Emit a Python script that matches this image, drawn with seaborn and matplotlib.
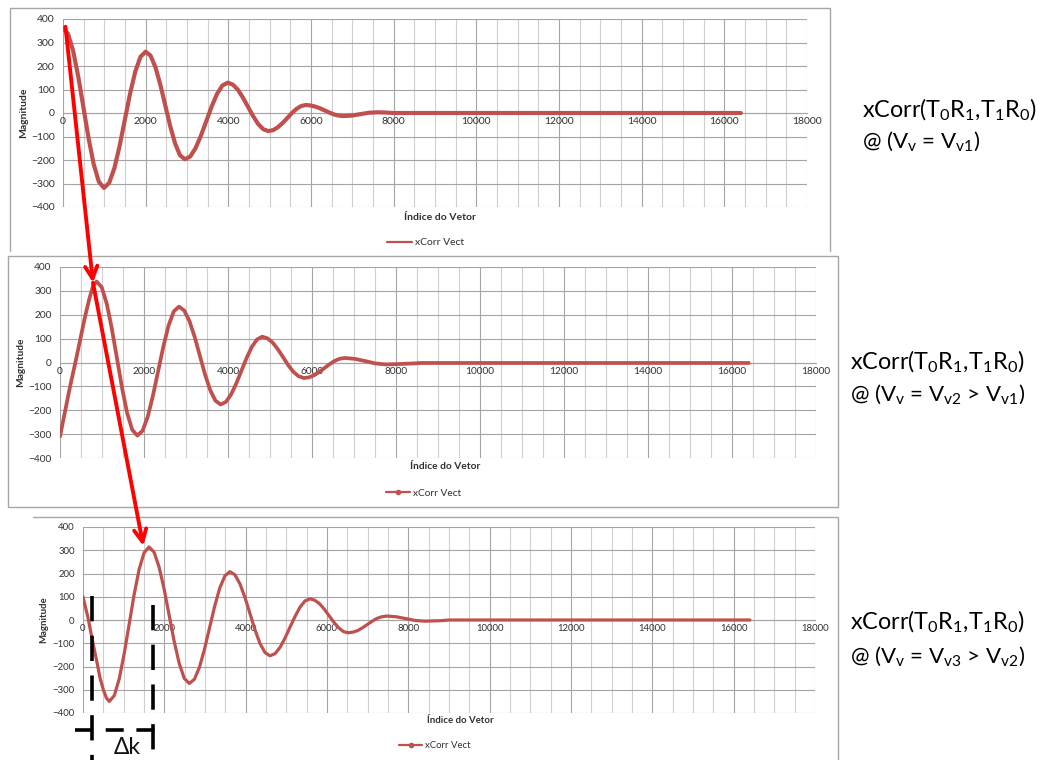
import matplotlib
matplotlib.use("Agg")
import matplotlib.pyplot as plt
import pandas as pd
import seaborn as sns
from matplotlib.lines import Line2D
from matplotlib.patches import ConnectionPatch
from matplotlib.ticker import MultipleLocator

# ---------------- data: cross-correlation vectors for three vehicle speeds ----------------
idx_v1 = [0, 124, 248, 372, 496, 620, 744, 868,
          992, 1118, 1244, 1370, 1496, 1622, 1748, 1874,
          2000, 2119, 2238, 2356, 2475, 2594, 2713, 2831,
          2950, 3079, 3209, 3338, 3468, 3597, 3726, 3856,
          3985, 4108, 4231, 4354, 4477, 4599, 4722, 4845,
          4968, 5082, 5196, 5310, 5424, 5538, 5652, 5766,
          5880, 5993, 6105, 6218, 6330, 6443, 6555, 6668,
          6780, 6985, 7190, 7395, 7600, 7800, 8000, 16400]
mag_v1 = [362, 336, 262, 152, 22, -109, -219, -293,
          -319, -297, -234, -140, -29, 82, 176, 239,
          261, 244, 194, 120, 32, -56, -130, -180,
          -197, -185, -149, -96, -34, 28, 81, 117,
          129, 121, 99, 65, 26, -13, -47, -69,
          -77, -73, -61, -43, -22, 0, 18, 30,
          34, 32, 27, 20, 11, 2, -6, -11,
          -13, -11, -5, 1, 3, 2, 0, 0]

idx_v2 = [0, 120, 240, 360, 480, 600, 700, 790,
          873, 994, 1115, 1236, 1357, 1478, 1599, 1720,
          1841, 1965, 2089, 2213, 2337, 2461, 2585, 2709,
          2833, 2957, 3081, 3205, 3329, 3453, 3577, 3701,
          3825, 3949, 4073, 4197, 4321, 4445, 4569, 4693,
          4817, 4941, 5065, 5189, 5313, 5437, 5561, 5685,
          5810, 5932, 6054, 6176, 6298, 6420, 6542, 6664,
          6786, 7027, 7268, 7509, 7750, 8000, 8400, 8600, 16400]
mag_v2 = [-310, -205, -100, -5, 95, 195, 268, 322,
          339, 315, 245, 140, 17, -107, -212, -282,
          -306, -286, -227, -139, -36, 67, 155, 214,
          234, 218, 174, 108, 29, -50, -116, -160,
          -176, -165, -134, -88, -34, 20, 66, 97,
          108, 101, 83, 55, 22, -12, -40, -58,
          -65, -62, -53, -39, -23, -7, 7, 16,
          19, 15, 6, -4, -8, -7, -4, -2, -2]

idx_v3 = [0, 120, 240, 330, 420, 500, 575,
          647, 769, 891, 1013, 1135, 1257, 1379, 1501,
          1623, 1747, 1871, 1995, 2119, 2242, 2366, 2490,
          2614, 2739, 2864, 2989, 3114, 3239, 3364, 3490,
          3615, 3738, 3861, 3984, 4107, 4229, 4352, 4475,
          4598, 4721, 4844, 4967, 5090, 5213, 5336, 5459,
          5582, 5700, 5818, 5935, 6053, 6171, 6289, 6406,
          6524, 6642, 6760, 6877, 6995, 7113, 7231, 7348,
          7466, 7700, 7933, 8167, 8400, 8800, 9000, 16400]
mag_v3 = [100, 12, -95, -170, -250, -300, -335,
          -350, -325, -253, -145, -18, 109, 217, 289,
          314, 292, 228, 133, 20, -92, -187, -251,
          -273, -255, -203, -125, -32, 60, 138, 190,
          208, 194, 155, 96, 27, -42, -101, -140,
          -154, -145, -118, -78, -31, 15, 55, 82,
          91, 85, 70, 46, 18, -10, -34, -50,
          -55, -52, -45, -33, -19, -5, 7, 14,
          17, 14, 6, -2, -5, -3, 0, 0]

x_ticks_step = 2000
x_grid_step = 500
y_step = 100
series_name = "xCorr Vect"
x_title = "Índice do Vetor"
y_title = "Magnitude"
panel_titles = [
    (r"xCorr(T$_0$R$_1$,T$_1$R$_0$)", r"@ (V$_v$ = V$_{v1}$)"),
    (r"xCorr(T$_0$R$_1$,T$_1$R$_0$)", r"@ (V$_v$ = V$_{v2}$ > V$_{v1}$)"),
    (r"xCorr(T$_0$R$_1$,T$_1$R$_0$)", r"@ (V$_v$ = V$_{v3}$ > V$_{v2}$)"),
]

# ---------------- styling ----------------
sns.set_style("white")
plt.rcParams["font.family"] = ["Lato", "DejaVu Sans"]
plt.rcParams["mathtext.default"] = "regular"

W, H = 1044, 760
fig = plt.figure(figsize=(W / 100, H / 100), dpi=100)

CURVE = "#c0504d"
GRID_MAJ = "#a4a4a4"
GRID_MIN = "#cfcfcf"
FRAME = "#a6a6a6"
TXT = "#303030"


def rect(l, t, r, b):
    return [l / W, 1 - b / H, (r - l) / W, (b - t) / H]


def fx(x):
    return x / W


def fy(y):
    return 1 - y / H


def frame(points):
    xs = [fx(p[0]) for p in points]
    ys = [fy(p[1]) for p in points]
    fig.add_artist(Line2D(xs, ys, transform=fig.transFigure, color=FRAME, lw=1.0))


# chart-area borders
frame([(10, 251), (10, 8), (830, 8), (830, 251)])
frame([(8, 256), (838, 256), (838, 507), (8, 507), (8, 256)])
frame([(33, 517), (838, 517), (838, 760)])

panels = [
    dict(idx=idx_v1, mag=mag_v1, box=(63, 19, 807, 207), lw=3.0, fs=7.5, marker=None,
         ylab=-0.047, xlab=(0.507, -0.055), leg=(0.487, -0.19)),
    dict(idx=idx_v2, mag=mag_v2, box=(60, 267, 816, 458), lw=2.7, fs=7.3, marker="o",
         ylab=-0.046, xlab=(0.51, -0.045), leg=(0.481, -0.183)),
    dict(idx=idx_v3, mag=mag_v3, box=(83, 527, 815, 713), lw=2.3, fs=6.9, marker="o",
         ylab=-0.048, xlab=(0.515, -0.04), leg=(0.481, -0.177)),
]

axes = []
for p in panels:
    ax = fig.add_axes(rect(*p["box"]))
    df = pd.DataFrame({"k": p["idx"], "m": p["mag"]})
    sns.lineplot(data=df, x="k", y="m", ax=ax, color=CURVE, lw=p["lw"],
                 estimator=None, sort=False, legend=False, zorder=3,
                 solid_joinstyle="round", solid_capstyle="round")
    ax.set_xlim(0, 18000)
    ax.set_ylim(-400, 400)
    ax.xaxis.set_major_locator(MultipleLocator(x_ticks_step))
    ax.xaxis.set_minor_locator(MultipleLocator(x_grid_step))
    ax.yaxis.set_major_locator(MultipleLocator(y_step))
    ax.grid(which="major", color=GRID_MAJ, lw=0.8)
    ax.grid(which="minor", axis="x", color=GRID_MIN, lw=0.8)
    ax.set_axisbelow(True)
    for s in ("top", "right", "left"):
        ax.spines[s].set_visible(False)
    ax.spines["bottom"].set_position(("data", 0))
    ax.spines["bottom"].set_color(GRID_MAJ)
    ax.spines["bottom"].set_linewidth(0.8)
    ax.tick_params(which="both", length=0, labelsize=p["fs"], colors=TXT)
    ax.tick_params(axis="x", pad=3)
    ax.tick_params(axis="y", pad=6)
    ax.set_xlabel("")
    ax.set_ylabel(y_title, fontweight="bold", fontsize=p["fs"], color=TXT)
    ax.yaxis.set_label_coords(p["ylab"], 0.5)
    ax.text(p["xlab"][0], p["xlab"][1], x_title, transform=ax.transAxes, ha="center",
            va="center", fontweight="bold", fontsize=p["fs"], color=TXT)
    handle = Line2D([], [], color=CURVE, lw=1.6, marker=p["marker"], markersize=3)
    ax.legend([handle], [series_name], loc="center", bbox_to_anchor=p["leg"],
              frameon=False, fontsize=p["fs"], handlelength=2.4, handletextpad=0.3,
              labelcolor=TXT)
    axes.append(ax)

ax1, ax2, ax3 = axes

# red arrows following the main peak from one speed to the next
for (a_from, xy_from), (a_to, xy_to) in [
    ((ax1, (60, 367)), (ax2, (786, 334))),
    ((ax2, (786, 334)), (ax3, (1483, 319))),
]:
    con = ConnectionPatch(xyA=xy_from, coordsA=a_from.transData, xyB=xy_to,
                          coordsB=a_to.transData, arrowstyle="->", color="#ff0000",
                          lw=2.8, mutation_scale=22, shrinkA=0, shrinkB=0, zorder=10)
    fig.add_artist(con)

# delta-k bracket on the last panel
dash_kw = dict(color="black", lw=2.6, clip_on=False, zorder=6)
ax3.plot([215, 215], [104, -620], dashes=(7, 4), **dash_kw)
ax3.plot([1714, 1714], [65, -620], dashes=(7, 4), **dash_kw)
ax3.plot([-197, 2040], [-475, -475], dashes=(5, 3.5), **dash_kw)
fig.text(fx(127), fy(747), "Δk", ha="center", va="center", fontsize=16.5, color="#111111")

# descriptions on the right
title_pos = [(862, 110, 141), (850, 362, 394), (850, 622, 656)]
for (l1, l2), (x, y1, y2) in zip(panel_titles, title_pos):
    fig.text(fx(x), fy(y1), l1, ha="left", va="center", fontsize=16.8, color="black")
    fig.text(fx(x), fy(y2), l2, ha="left", va="center", fontsize=16, color="black")

fig.savefig("out.png", dpi=100)
